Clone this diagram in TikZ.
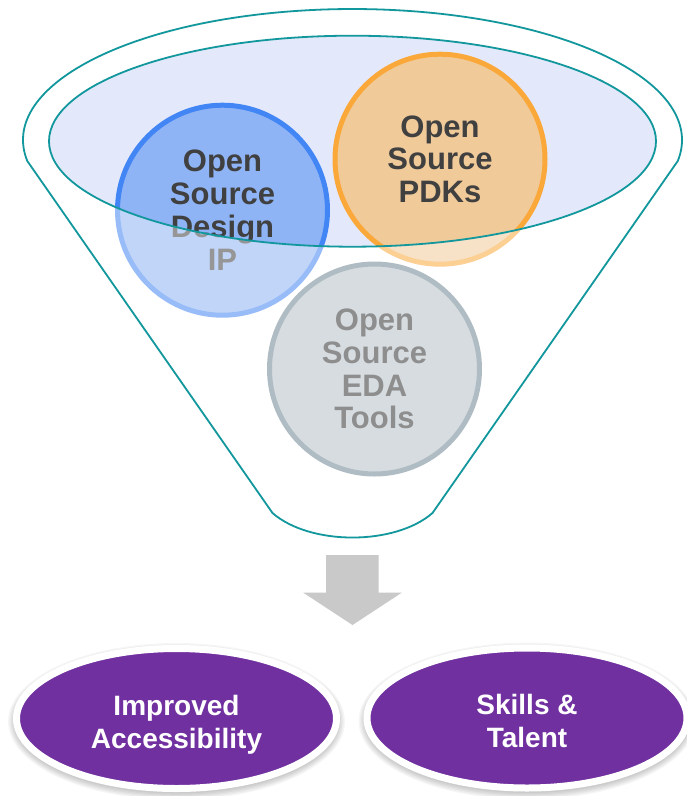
\documentclass[tikz,border=0pt]{standalone}
\usepackage{fontspec}
\setmainfont{Liberation Sans}
\usetikzlibrary{shapes.geometric}

\definecolor{funnelteal}{HTML}{11979C}
\definecolor{mouthfill}{HTML}{E3E9FB}
\definecolor{textdark}{HTML}{404040}
\definecolor{ipfill}{HTML}{8FB4F5}
\definecolor{ipline}{HTML}{4285F4}
\definecolor{pdkfill}{HTML}{F1CA9A}
\definecolor{pdkline}{HTML}{FAA83A}
\definecolor{edafill}{HTML}{D6DCE0}
\definecolor{edaline}{HTML}{B0BCC3}
\definecolor{edatext}{HTML}{8E8E8E}
\definecolor{outcome}{HTML}{7030A0}
\definecolor{arrowgray}{HTML}{C9C9C9}

\begin{document}
\begin{tikzpicture}[x=1pt,y=-1pt,
  funnel/.style={draw=funnelteal, line width=1.8pt, line join=round},
  bubble/.style={circle, minimum size=210pt, line width=5pt, inner sep=0pt,
    align=center, font=\bfseries\fontsize{31}{32.7}\selectfont},
  result/.style={ellipse, minimum width=320pt, minimum height=140pt,
    line width=7pt, draw=white, fill=outcome, text=white, inner sep=0pt,
    text height=59pt, text depth=0pt,
    align=center, font=\bfseries\fontsize{28}{33}\selectfont}]

\useasboundingbox (0,0) rectangle (687,796);
\fill[white] (0,0) rectangle (687,796);

% mouth of the funnel
\fill[mouthfill] (352.5,141.2) ellipse [x radius=303.5, y radius=105.5];

% ingredients falling in
\node[bubble, fill=ipfill, draw=ipline, text=textdark] (ip) at (222.5,210.2)
  {Open\\Source\\Design\\IP};
\node[bubble, fill=pdkfill, draw=pdkline, text=textdark] (pdk) at (440,159.2)
  {Open\\Source\\PDKs};

% the funnel body washes out whatever lies below the mouth
\fill[white, fill opacity=0.45, even odd rule]
  (0,0) rectangle (687,560)
  (352.5,141.2) ellipse [x radius=303.5, y radius=105.5];

\node[bubble, fill=edafill, draw=edaline, text=edatext] (eda) at (374.5,369)
  {Open\\Source\\EDA\\Tools};

% funnel outline and rim
\draw[funnel] (27.3,161)
  arc[start angle=170.78, end angle=369.22, x radius=329.5, y radius=131]
  -- (432.5,513) .. controls (395,545.7) and (310,545.7) .. (272.5,513) -- cycle;
\draw[funnel] (352.5,141.2) ellipse [x radius=303.5, y radius=105.5];

% block arrow out of the funnel
\fill[arrowgray] (326,555) -- (378.5,555) -- (378.5,592.7) -- (401.7,592.7)
  -- (352.5,625) -- (303.3,592.7) -- (326,592.7) -- cycle;

% soft shadows under the outcomes
\foreach \cx/\cy in {176.5/718.5, 527/718}{
  \foreach \k in {0,...,5}{
    \fill[black, opacity=0.035] (\cx,\cy+3) ellipse
      [x radius=162+\k*1.3, y radius=72+\k*1.3];
  }
}

% outcomes
\node[result] (access) at (176.5,718.5) {Improved\\Accessibility};
\node[result] (skills) at (527,718) {Skills \&\\Talent};

\end{tikzpicture}
\end{document}
